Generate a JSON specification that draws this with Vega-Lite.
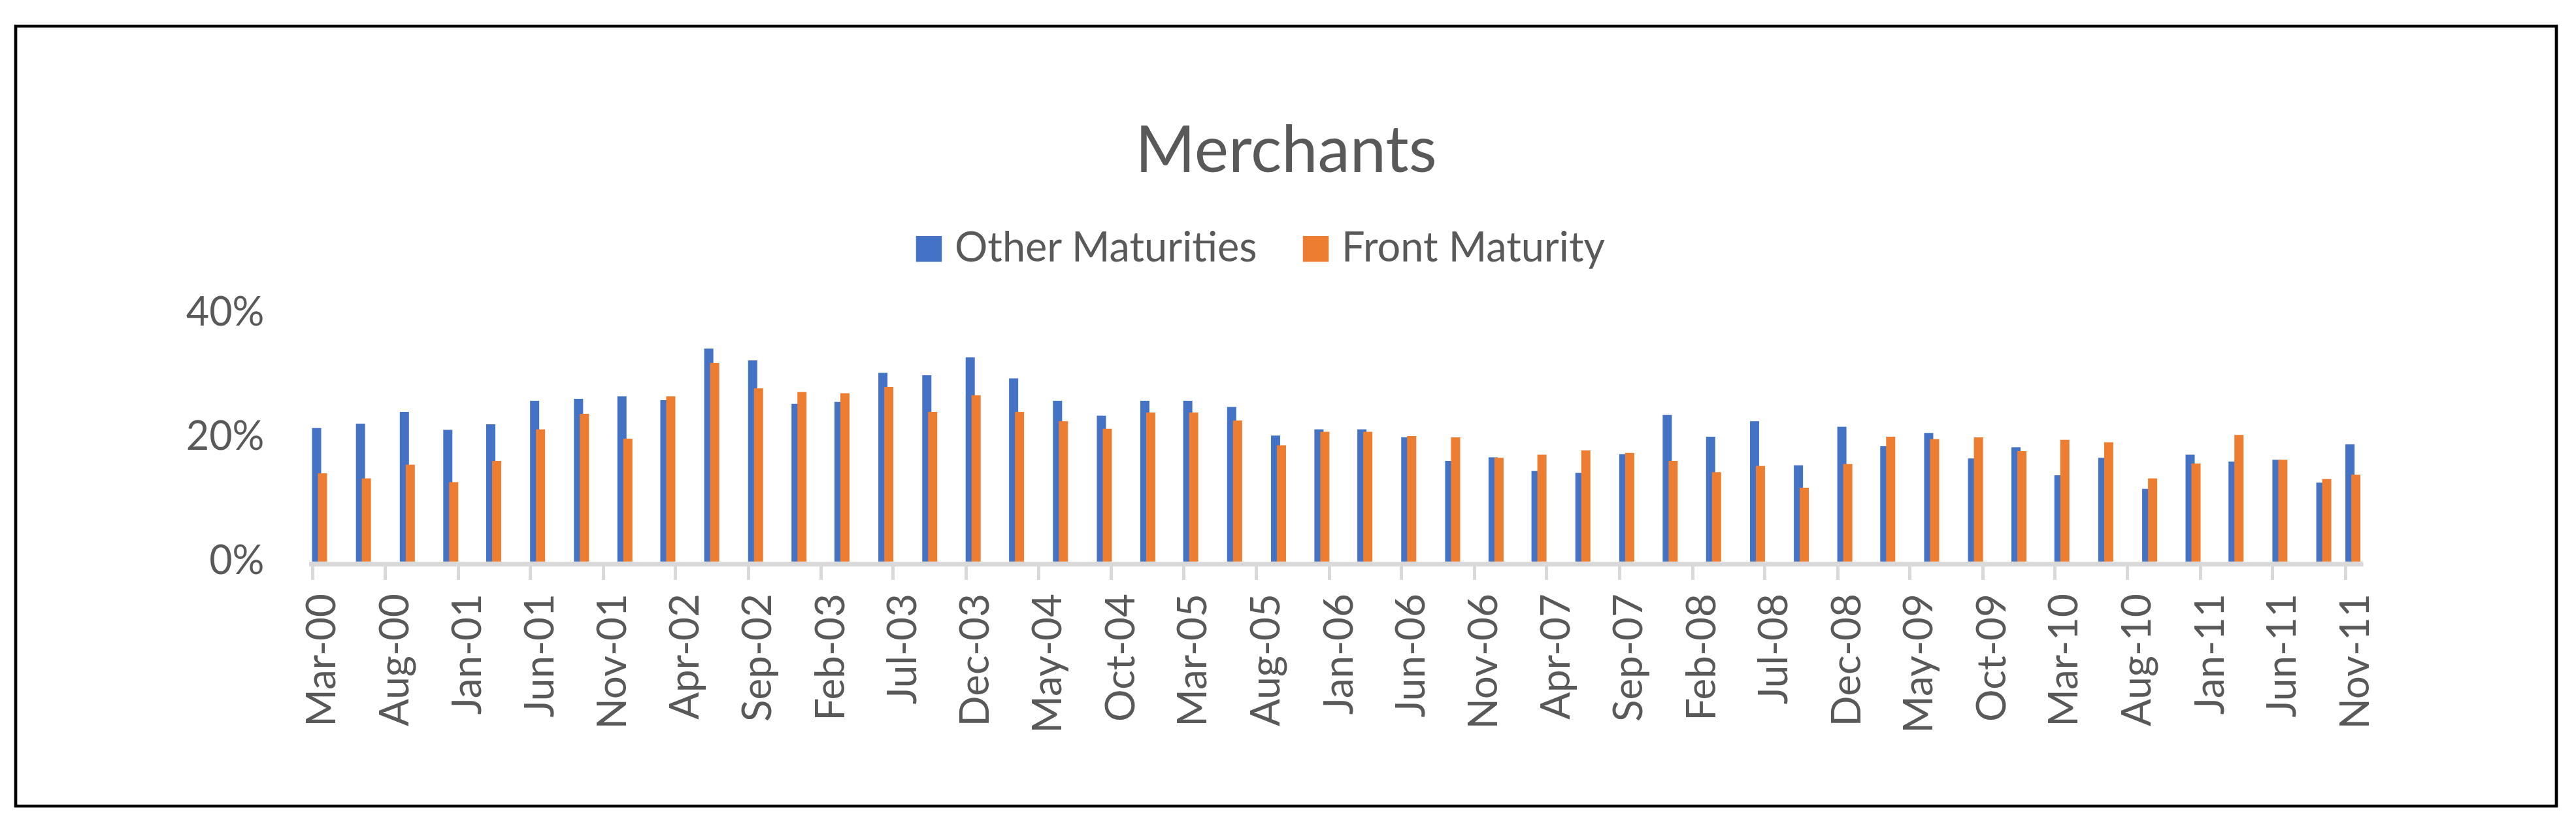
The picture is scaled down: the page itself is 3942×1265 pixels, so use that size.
{
  "$schema": "https://vega.github.io/schema/vega-lite/v6.json",
  "description": "Merchants: Other Maturities vs Front Maturity, quarterly share.",
  "width": 3888,
  "height": 1193,
  "autosize": {"type": "none"},
  "padding": {"left": 24, "top": 40, "right": 30, "bottom": 32},
  "background": "white",
  "title": {
    "text": "Merchants",
    "font": "Lato",
    "fontSize": 99,
    "fontWeight": "normal",
    "color": "#595959",
    "anchor": "middle",
    "frame": "group",
    "baseline": "alphabetic",
    "offset": 0,
    "dy": 322
  },
  "config": {
    "view": {"stroke": "#000000", "strokeWidth": 4.7, "fill": "white"},
    "font": "Lato"
  },
  "data": {
    "values": [
      {"date": "2000-03-01", "series": "Other Maturities", "value": 0.215},
      {"date": "2000-03-01", "series": "Front Maturity", "value": 0.142},
      {"date": "2000-06-01", "series": "Other Maturities", "value": 0.222},
      {"date": "2000-06-01", "series": "Front Maturity", "value": 0.134},
      {"date": "2000-09-01", "series": "Other Maturities", "value": 0.241},
      {"date": "2000-09-01", "series": "Front Maturity", "value": 0.156},
      {"date": "2000-12-01", "series": "Other Maturities", "value": 0.212},
      {"date": "2000-12-01", "series": "Front Maturity", "value": 0.128},
      {"date": "2001-03-01", "series": "Other Maturities", "value": 0.221},
      {"date": "2001-03-01", "series": "Front Maturity", "value": 0.162},
      {"date": "2001-06-01", "series": "Other Maturities", "value": 0.259},
      {"date": "2001-06-01", "series": "Front Maturity", "value": 0.213},
      {"date": "2001-09-01", "series": "Other Maturities", "value": 0.262},
      {"date": "2001-09-01", "series": "Front Maturity", "value": 0.238},
      {"date": "2001-12-01", "series": "Other Maturities", "value": 0.266},
      {"date": "2001-12-01", "series": "Front Maturity", "value": 0.198},
      {"date": "2002-03-01", "series": "Other Maturities", "value": 0.260},
      {"date": "2002-03-01", "series": "Front Maturity", "value": 0.266},
      {"date": "2002-06-01", "series": "Other Maturities", "value": 0.343},
      {"date": "2002-06-01", "series": "Front Maturity", "value": 0.320},
      {"date": "2002-09-01", "series": "Other Maturities", "value": 0.324},
      {"date": "2002-09-01", "series": "Front Maturity", "value": 0.279},
      {"date": "2002-12-01", "series": "Other Maturities", "value": 0.254},
      {"date": "2002-12-01", "series": "Front Maturity", "value": 0.273},
      {"date": "2003-03-01", "series": "Other Maturities", "value": 0.257},
      {"date": "2003-03-01", "series": "Front Maturity", "value": 0.271},
      {"date": "2003-06-01", "series": "Other Maturities", "value": 0.304},
      {"date": "2003-06-01", "series": "Front Maturity", "value": 0.281},
      {"date": "2003-09-01", "series": "Other Maturities", "value": 0.300},
      {"date": "2003-09-01", "series": "Front Maturity", "value": 0.241},
      {"date": "2003-12-01", "series": "Other Maturities", "value": 0.329},
      {"date": "2003-12-01", "series": "Front Maturity", "value": 0.268},
      {"date": "2004-03-01", "series": "Other Maturities", "value": 0.295},
      {"date": "2004-03-01", "series": "Front Maturity", "value": 0.241},
      {"date": "2004-06-01", "series": "Other Maturities", "value": 0.259},
      {"date": "2004-06-01", "series": "Front Maturity", "value": 0.226},
      {"date": "2004-09-01", "series": "Other Maturities", "value": 0.235},
      {"date": "2004-09-01", "series": "Front Maturity", "value": 0.214},
      {"date": "2004-12-01", "series": "Other Maturities", "value": 0.259},
      {"date": "2004-12-01", "series": "Front Maturity", "value": 0.240},
      {"date": "2005-03-01", "series": "Other Maturities", "value": 0.259},
      {"date": "2005-03-01", "series": "Front Maturity", "value": 0.240},
      {"date": "2005-06-01", "series": "Other Maturities", "value": 0.249},
      {"date": "2005-06-01", "series": "Front Maturity", "value": 0.227},
      {"date": "2005-09-01", "series": "Other Maturities", "value": 0.203},
      {"date": "2005-09-01", "series": "Front Maturity", "value": 0.187},
      {"date": "2005-12-01", "series": "Other Maturities", "value": 0.213},
      {"date": "2005-12-01", "series": "Front Maturity", "value": 0.209},
      {"date": "2006-03-01", "series": "Other Maturities", "value": 0.213},
      {"date": "2006-03-01", "series": "Front Maturity", "value": 0.209},
      {"date": "2006-06-01", "series": "Other Maturities", "value": 0.200},
      {"date": "2006-06-01", "series": "Front Maturity", "value": 0.202},
      {"date": "2006-09-01", "series": "Other Maturities", "value": 0.162},
      {"date": "2006-09-01", "series": "Front Maturity", "value": 0.200},
      {"date": "2006-12-01", "series": "Other Maturities", "value": 0.168},
      {"date": "2006-12-01", "series": "Front Maturity", "value": 0.167},
      {"date": "2007-03-01", "series": "Other Maturities", "value": 0.146},
      {"date": "2007-03-01", "series": "Front Maturity", "value": 0.172},
      {"date": "2007-06-01", "series": "Other Maturities", "value": 0.143},
      {"date": "2007-06-01", "series": "Front Maturity", "value": 0.179},
      {"date": "2007-09-01", "series": "Other Maturities", "value": 0.173},
      {"date": "2007-09-01", "series": "Front Maturity", "value": 0.175},
      {"date": "2007-12-01", "series": "Other Maturities", "value": 0.236},
      {"date": "2007-12-01", "series": "Front Maturity", "value": 0.162},
      {"date": "2008-03-01", "series": "Other Maturities", "value": 0.201},
      {"date": "2008-03-01", "series": "Front Maturity", "value": 0.144},
      {"date": "2008-06-01", "series": "Other Maturities", "value": 0.226},
      {"date": "2008-06-01", "series": "Front Maturity", "value": 0.154},
      {"date": "2008-09-01", "series": "Other Maturities", "value": 0.155},
      {"date": "2008-09-01", "series": "Front Maturity", "value": 0.119},
      {"date": "2008-12-01", "series": "Other Maturities", "value": 0.217},
      {"date": "2008-12-01", "series": "Front Maturity", "value": 0.157},
      {"date": "2009-03-01", "series": "Other Maturities", "value": 0.186},
      {"date": "2009-03-01", "series": "Front Maturity", "value": 0.201},
      {"date": "2009-06-01", "series": "Other Maturities", "value": 0.207},
      {"date": "2009-06-01", "series": "Front Maturity", "value": 0.197},
      {"date": "2009-09-01", "series": "Other Maturities", "value": 0.166},
      {"date": "2009-09-01", "series": "Front Maturity", "value": 0.200},
      {"date": "2009-12-01", "series": "Other Maturities", "value": 0.184},
      {"date": "2009-12-01", "series": "Front Maturity", "value": 0.178},
      {"date": "2010-03-01", "series": "Other Maturities", "value": 0.139},
      {"date": "2010-03-01", "series": "Front Maturity", "value": 0.196},
      {"date": "2010-06-01", "series": "Other Maturities", "value": 0.167},
      {"date": "2010-06-01", "series": "Front Maturity", "value": 0.192},
      {"date": "2010-09-01", "series": "Other Maturities", "value": 0.117},
      {"date": "2010-09-01", "series": "Front Maturity", "value": 0.134},
      {"date": "2010-12-01", "series": "Other Maturities", "value": 0.172},
      {"date": "2010-12-01", "series": "Front Maturity", "value": 0.158},
      {"date": "2011-03-01", "series": "Other Maturities", "value": 0.161},
      {"date": "2011-03-01", "series": "Front Maturity", "value": 0.204},
      {"date": "2011-06-01", "series": "Other Maturities", "value": 0.164},
      {"date": "2011-06-01", "series": "Front Maturity", "value": 0.164},
      {"date": "2011-09-01", "series": "Other Maturities", "value": 0.127},
      {"date": "2011-09-01", "series": "Front Maturity", "value": 0.133},
      {"date": "2011-11-01", "series": "Other Maturities", "value": 0.189},
      {"date": "2011-11-01", "series": "Front Maturity", "value": 0.140}
    ]
  },
  "encoding": {
    "x": {
      "field": "date",
      "type": "temporal",
      "scale": {
        "type": "utc",
        "domain": [
          {"year": 2000, "month": 3, "date": 1, "utc": true},
          {"year": 2011, "month": 12, "date": 1, "utc": true}
        ],
        "range": [448.5, 3592],
        "nice": false
      },
      "axis": {
        "title": null,
        "grid": false,
        "offset": -370.5,
        "domainColor": "#D9D9D9",
        "domainWidth": 7,
        "tickColor": "#D9D9D9",
        "tickWidth": 5,
        "tickSize": 24,
        "labelAngle": -90,
        "labelAlign": "right",
        "labelBaseline": "middle",
        "labelPadding": 21,
        "labelOffset": 16,
        "labelFont": "Lato",
        "labelFontSize": 62,
        "labelColor": "#595959",
        "labelFlush": false,
        "labelOverlap": false,
        "labelBound": false,
        "labelLimit": 0,
        "format": "%b-%y",
        "values": [
          {"year": 2000, "month": 3, "date": 1, "utc": true},
          {"year": 2000, "month": 8, "date": 1, "utc": true},
          {"year": 2001, "month": 1, "date": 1, "utc": true},
          {"year": 2001, "month": 6, "date": 1, "utc": true},
          {"year": 2001, "month": 11, "date": 1, "utc": true},
          {"year": 2002, "month": 4, "date": 1, "utc": true},
          {"year": 2002, "month": 9, "date": 1, "utc": true},
          {"year": 2003, "month": 2, "date": 1, "utc": true},
          {"year": 2003, "month": 7, "date": 1, "utc": true},
          {"year": 2003, "month": 12, "date": 1, "utc": true},
          {"year": 2004, "month": 5, "date": 1, "utc": true},
          {"year": 2004, "month": 10, "date": 1, "utc": true},
          {"year": 2005, "month": 3, "date": 1, "utc": true},
          {"year": 2005, "month": 8, "date": 1, "utc": true},
          {"year": 2006, "month": 1, "date": 1, "utc": true},
          {"year": 2006, "month": 6, "date": 1, "utc": true},
          {"year": 2006, "month": 11, "date": 1, "utc": true},
          {"year": 2007, "month": 4, "date": 1, "utc": true},
          {"year": 2007, "month": 9, "date": 1, "utc": true},
          {"year": 2008, "month": 2, "date": 1, "utc": true},
          {"year": 2008, "month": 7, "date": 1, "utc": true},
          {"year": 2008, "month": 12, "date": 1, "utc": true},
          {"year": 2009, "month": 5, "date": 1, "utc": true},
          {"year": 2009, "month": 10, "date": 1, "utc": true},
          {"year": 2010, "month": 3, "date": 1, "utc": true},
          {"year": 2010, "month": 8, "date": 1, "utc": true},
          {"year": 2011, "month": 1, "date": 1, "utc": true},
          {"year": 2011, "month": 6, "date": 1, "utc": true},
          {"year": 2011, "month": 11, "date": 1, "utc": true}
        ]
      }
    },
    "y": {
      "field": "value",
      "type": "quantitative",
      "scale": {"domain": [0, 0.4], "range": [819, 439], "nice": false, "zero": true},
      "axis": {
        "title": null,
        "grid": false,
        "domain": false,
        "ticks": false,
        "values": [0, 0.2, 0.4],
        "format": ".0%",
        "offset": -380,
        "labelPadding": 0,
        "labelFont": "Lato",
        "labelFontSize": 61,
        "labelColor": "#595959",
        "labelAlign": "right",
        "labelBaseline": "middle",
        "labelFlush": false,
        "labelBound": false
      }
    },
    "color": {
      "field": "series",
      "type": "nominal",
      "scale": {
        "domain": ["Other Maturities", "Front Maturity"],
        "range": ["#4472C4", "#ED7D31"]
      },
      "legend": {
        "title": null,
        "orient": "none",
        "direction": "horizontal",
        "legendX": 1366,
        "legendY": 309,
        "padding": 0,
        "symbolType": "square",
        "symbolSize": 1560,
        "symbolStrokeWidth": 0,
        "symbolOpacity": 1,
        "labelFont": "Lato",
        "labelFontSize": 63,
        "labelColor": "#595959",
        "labelOffset": 8,
        "columnPadding": 57,
        "labelLimit": 1000
      }
    }
  },
  "layer": [
    {
      "transform": [{"filter": "datum.series === 'Other Maturities'"}],
      "mark": {"type": "bar", "width": 14, "xOffset": 7}
    },
    {
      "transform": [{"filter": "datum.series === 'Front Maturity'"}],
      "mark": {"type": "bar", "width": 14, "xOffset": 16}
    }
  ]
}
